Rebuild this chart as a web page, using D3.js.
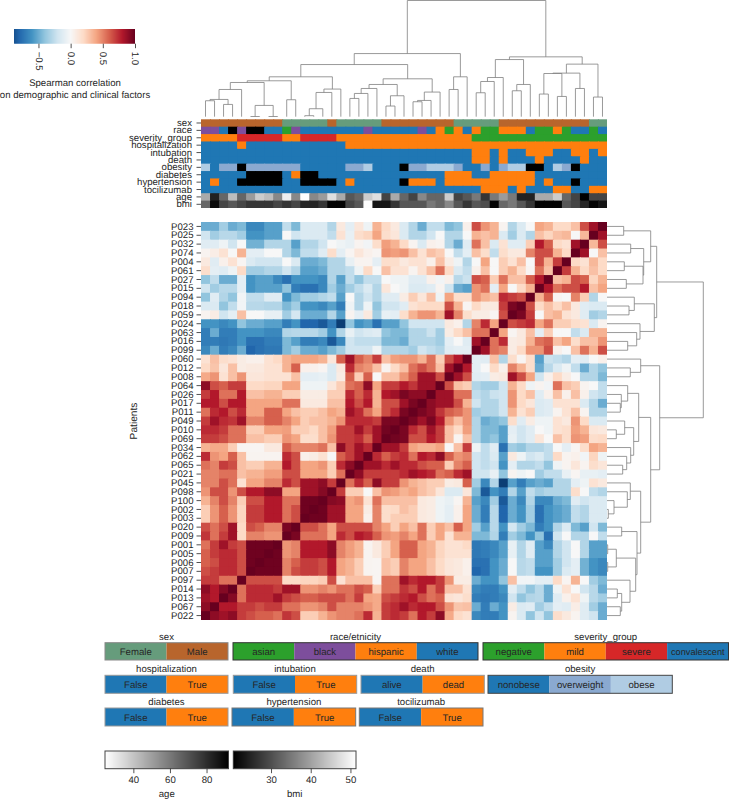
<!DOCTYPE html>
<html>
<head>
<meta charset="utf-8">
<script src="https://cdn.jsdelivr.net/npm/d3@7"></script>
<style>
  body { margin: 0; background: #fff; }
  text { font-family: "Liberation Sans", Arial, sans-serif; fill: #262626; text-rendering: geometricPrecision; }
</style>
</head>
<body>
<div id="my_dataviz"></div>
<script>
// Patients, top to bottom. Columns run the other way round (first column is the last patient)
var patients = ["P023","P025","P032","P074","P004","P061","P027","P015","P094","P018","P059","P024","P063","P016","P099",
  "P060","P012","P008","P064","P026","P017","P011","P049","P010","P069","P034","P062","P065","P021","P045","P098",
  "P100","P002","P003","P020","P009","P001","P005","P006","P007","P097","P014","P013","P067","P022"];

// Correlations. Matrix is symmetric so only the part left of the diagonal is kept
var corr = [
[-.5,-.5,-.35,-.5,-.45,-.65,-.65,-.55,-.55,-.25,-.45,-.15,-.15,-.15,-.3,.1,-.1,.12,-.05,.35,.2,.1,-.15,-.3,-.5,-.25,-.25,-.45,-.4,.05,.65,.45,.35,.03,-.3,-.15,0,.4,.35,.2,.2,.3,.65,.85],
[-.2,-.35,-.28,-.28,-.35,-.6,-.6,-.55,-.55,0,-.2,-.15,-.15,-.15,-.25,.15,-.08,.18,.22,.4,.18,.12,-.15,-.3,-.3,-.2,0,-.3,-.3,0,.35,.3,.35,-.15,-.35,-.15,-.3,.3,.22,.3,.33,0,.33],
[-.12,-.12,-.05,-.2,0,-.48,-.48,-.3,-.3,-.3,-.55,-.3,-.3,-.2,0,-.05,-.08,.03,-.03,.18,.42,.35,.2,.03,-.15,.05,.03,-.3,-.5,-.12,.55,.3,-.15,.15,-.12,-.12,.25,.8,.6,.2,.15,.85],
[.03,.07,.15,0,.35,-.1,-.1,0,0,-.3,-.45,-.25,-.25,-.12,.18,-.1,.02,.12,.05,.02,.45,.42,.45,.3,.15,.3,.25,0,-.25,-.1,.3,.18,-.25,.18,.1,.1,.5,.65,.65,.35,.2],
[.1,-.12,.05,.15,.02,-.15,-.2,-.2,-.2,0,-.15,-.5,-.5,-.45,-.3,-.3,-.08,.03,.03,-.1,.18,.18,.1,.15,.15,.05,.3,.08,-.05,-.3,0,.4,0,.25,.15,.3,0,.65,.35,.7],
[.18,-.1,-.12,-.05,.2,-.35,-.35,-.3,-.3,-.2,-.3,-.55,-.55,-.5,-.3,-.3,-.25,-.05,.2,0,.3,.15,.15,.03,.15,.3,.55,.2,-.15,-.25,.05,.3,0,.25,.35,.2,.02,.55,.3],
[-.4,-.25,-.5,-.5,-.1,-.6,-.55,-.55,-.65,-.75,-.6,-.6,-.6,-.65,-.3,-.55,-.25,-.4,-.25,-.25,0,-.05,-.05,-.12,-.12,.05,-.03,.05,-.28,-.22,.65,.6,.25,.55,.3,.3,.6,.8],
[-.2,-.35,-.28,-.28,-.1,-.6,-.55,-.55,-.55,-.4,-.7,-.75,-.75,-.65,-.35,-.5,-.35,-.25,-.15,-.3,.12,0,-.05,-.15,-.15,-.12,.03,-.2,-.5,-.55,.45,.55,-.1,.4,0,.2,.35],
[-.4,-.12,-.3,-.4,-.03,-.25,-.25,-.12,-.12,-.6,-.45,-.35,-.35,-.3,-.25,-.55,0,-.3,-.2,-.3,-.12,-.12,.08,.25,.12,.3,-.05,.4,.18,.18,.45,.35,.3,.75,.7,.65],
[-.15,-.15,-.4,-.25,-.03,-.28,-.28,-.3,-.3,-.45,-.35,-.6,-.6,-.65,-.55,-.7,-.05,-.3,-.05,-.4,-.2,-.2,-.12,.15,.2,.2,.2,.65,.35,.02,.2,.1,.1,.7,.95],
[.03,.08,-.2,-.1,.3,0,0,-.08,-.08,-.35,-.18,-.5,-.5,-.5,-.3,-.55,.03,-.1,.1,-.35,-.08,-.1,.18,.35,.45,.45,.35,.85,.5,.18,.08,.08,.02,.65],
[-.6,-.6,-.65,-.6,-.4,-.5,-.5,-.55,-.55,-.7,-.6,-.8,-.8,-.85,-.7,-.95,-.4,-.6,-.55,-.75,-.55,-.55,-.4,-.2,-.2,-.2,-.2,.1,.05,-.3,.5,.75,.4],
[-.7,-.5,-.7,-.7,-.6,-.6,-.6,-.65,-.65,-.3,-.28,-.28,-.28,-.35,-.6,-.3,-.08,-.2,-.15,-.12,-.4,-.45,-.45,-.3,-.3,-.22,-.35,.08,.2,.3,.55,.55],
[-.7,-.7,-.72,-.7,-.6,-.75,-.75,-.7,-.7,-.45,-.55,-.7,-.7,-.65,-.85,-.65,-.2,-.25,-.25,-.25,-.45,-.45,-.5,-.3,-.3,-.3,-.35,-.1,0,-.12,.85],
[-.65,-.5,-.7,-.65,-.5,-.8,-.75,-.72,-.72,-.45,-.35,-.5,-.5,-.55,-.45,-.35,-.2,-.2,-.2,-.05,-.3,-.3,-.3,-.35,-.2,-.25,-.3,-.12,-.1,-.1],
[.15,.3,.18,.15,.08,.05,.05,.15,.2,.35,.4,.4,.4,.35,.12,.6,.85,.6,.5,.7,.3,.42,.45,.45,.35,.55,.25,.65,.8],
[.2,.28,.12,.3,.08,.1,.1,.15,.15,.35,.6,.05,.05,.02,-.15,.1,.75,.5,.45,.3,.03,.2,.3,.55,.65,.55,.3,.85],
[.38,.45,.15,.3,.45,.12,.12,.15,.15,.15,.3,-.1,-.1,-.08,-.15,.08,.6,.25,.6,0,.3,.3,.45,.6,.85,.85,.65],
[.9,.65,.6,.7,.7,.2,.2,.22,.22,.4,.4,-.05,-.05,-.05,.12,.25,.55,.6,.9,.4,.7,.7,.8,.72,.85,.85],
[.7,.8,.55,.55,.8,.3,.3,.35,.35,.25,.25,.08,.08,.08,.25,.25,.75,.6,.75,.35,.8,.85,.95,.9,.9],
[.8,.8,.65,.8,.8,.4,.4,.4,.4,.55,.55,.1,.1,.1,.3,.3,.8,.65,.8,.35,.65,.65,.85,.95],
[.55,.75,.8,.65,.75,.4,.4,.6,.6,.4,.3,.25,.25,.3,.4,.35,.85,.75,.55,.4,.65,.75,.95],
[.7,.85,.75,.72,.85,.5,.5,.6,.6,.5,.4,.25,.3,.3,.35,.45,.75,.75,.75,.7,.95,.95],
[.75,.75,.7,.55,.55,.25,.25,.4,.4,.42,.25,.25,.2,.3,.42,.7,.7,.85,.7,.85,.97],
[.7,.7,.65,.55,.55,.3,.3,.25,.25,.45,.4,.18,.18,.3,.45,.7,.7,.75,.6,.85],
[.35,.38,.38,.25,.02,.02,.02,.1,.1,.6,.5,.5,.5,.55,.3,.9,.7,.85,.75],
[.75,.45,.4,.6,.3,.03,.03,.03,.03,.75,.65,.05,.08,.15,0,.6,.7,.85],
[.55,.5,.7,.65,.3,.25,.25,.35,.35,.8,.65,.4,.4,.45,.25,.75,.9],
[.5,.5,.55,.55,.3,.35,.35,.42,.42,.65,.65,.4,.4,.4,.25,.55],
[.5,.5,.65,.55,.15,.4,.4,.5,.5,.75,.65,.85,.85,.9,.7],
[.45,.65,.65,.45,.65,.8,.8,.9,.9,.4,.4,.85,.85,.92],
[.35,.5,.65,.5,.25,.65,.65,.8,.8,.55,.55,.98,.98],
[.25,.45,.6,.45,.22,.7,.7,.8,.8,.55,.65,.98],
[.25,.45,.6,.45,.22,.7,.7,.8,.8,.55,.65],
[.65,.55,.65,.85,.2,.65,.6,.5,.5,.95],
[.72,.55,.7,.85,.2,.5,.5,.45,.45],
[.55,.7,.85,.7,.65,.98,.98,.98],
[.6,.7,.75,.75,.65,.98,.98],
[.6,.65,.75,.75,.65,.98],
[.65,.7,.75,.75,.65],
[.7,.7,.55,.55],
[.9,.8,.92],
[.85,.8],
[.9],
[]
];

// Clinical factors per column, left to right. null means missing and is drawn black
var sexCats = ["Female","Male"];
var raceCats = ["asian","black","hispanic","white"];
var severityCats = ["negative","mild","severe","convalescent"];
var obesityCats = ["nonobese","overweight","obese"];
var boolCats = ["False","True"];
var deathCats = ["alive","dead"];

var sexValues = [1,1,1,1,1,1,1,1,1,0,0,0,0,0,1,0,0,0,0,0,1,1,1,1,1,1,1,1,0,0,0,0,0,1,1,1,1,1,1,1,1,1,1,0,0];
var raceValues = [1,1,3,null,1,null,null,3,3,0,1,3,3,3,3,3,3,3,1,3,3,3,3,3,1,3,2,0,2,3,2,0,0,2,2,2,3,0,0,2,0,3,3,0,3];
var severityValues = [1,1,1,1,2,2,2,2,2,1,1,2,2,2,2,1,1,1,1,1,1,1,1,1,1,1,1,1,1,1,0,0,0,0,0,0,0,0,0,0,0,0,0,0,0];
var hospitalValues = [0,0,0,0,1,0,0,0,0,0,0,0,0,0,0,0,1,1,1,1,1,1,1,1,1,1,1,1,1,1,1,1,1,1,1,1,1,1,1,1,1,1,1,1,1];
var intubationValues = [0,0,0,0,0,0,0,0,0,0,0,0,0,0,0,0,0,0,0,0,0,0,0,0,0,0,0,0,0,0,1,1,0,1,0,0,1,1,1,0,0,1,1,0,1];
var deathValues = [0,0,0,0,0,0,0,0,0,0,0,0,0,0,0,0,0,0,0,0,0,0,0,0,0,0,0,0,0,0,1,1,0,1,0,0,0,1,0,0,0,0,1,0,0];
var obesityValues = [2,0,1,1,null,1,1,1,1,1,1,0,0,0,0,0,1,1,2,0,0,0,null,1,1,2,2,2,1,0,0,1,0,1,2,2,null,null,0,2,1,null,0,0,0];
var diabetesValues = [0,0,0,0,0,null,null,null,null,0,1,null,null,0,0,0,0,0,0,0,0,0,0,0,0,0,0,1,1,1,0,0,1,1,1,1,1,0,0,0,0,0,0,0,0];
var hypertensionValues = [0,1,0,0,null,null,null,null,null,0,0,null,null,null,null,0,1,0,0,0,0,0,null,1,1,1,0,1,1,1,1,1,1,1,1,1,1,0,1,0,0,null,0,0,0];
var tocilizumabValues = [0,0,0,0,0,0,0,0,0,0,0,0,0,0,0,0,0,0,0,0,0,0,0,0,0,0,0,0,0,0,0,1,1,1,0,1,0,0,0,1,1,0,0,1,1];
var ageValues = [47,83,65,42,65,51,38,42,56,29,56,25,56,51,33,47,69,65,38,33,74,47,65,74,56,65,65,38,74,69,60,78,60,51,60,83,83,47,47,38,65,74,92,74,74];
var bmiValues = [33,22,29,31,29,27,27,27,29,27,29,25,25,27,21,21,29,31,51,23,23,27,31,31,31,35,33,37,31,27,31,30,21,33,35,31,27,21,21,21,31,29,25,21,23];

var blue = "#1f77b4", orange = "#ff7f0e", green = "#2ca02c", purple = "#7d4e9c", red = "#d62728";
var sexColors = ["#669c7c","#b8652c"];
var raceColors = [green, purple, orange, blue];
var severityColors = [green, orange, red, blue];
var obesityColors = [blue, "#8aa9d0", "#b0cce3"];
var boolColors = [blue, orange];

// Dendrograms as nested merges: [left, right, distance], numbers are leaves
var colA = [[[[0,1,16],[2,3,12.3],17.3],4,27.3],[[5,6,.2],[7,8,.2],11.3],34.3];
var colB = [[colA,[9,10,17],36],[[[[11,12,1],13,8],14,24.3],15,27.7],40];
var colC = [[[[[16,17,18.3],18,23.3],19,28.3],[[20,21,10.7],22,21],32.3],[[[23,24,15],25,16.3],26,24.7],38];
var colD = [[colB,colC,52.3],[[27,28,27.3],29,40],63.3];
var colE = [[[[30,31,24],32,35.3],33,39.3],[[34,35,26],36,32.3],57.3];
var colF = [[[[37,38,22.7],[39,40,20.3],43.3],[41,42,28.3],43.7],[43,44,19.7],52.7];
var colTree = [colD,[colE,colF,60],116.5];

var rowA = [[0,1,16.7],[[2,3,23.7],[[4,5,17.3],[6,7,19.3],36],36.7],43.7];
var rowB = [[8,[9,10,22],27.3],[11,[12,[13,14,20.7],29.7],33],47.3];
var rowC = [18,[19,[20,21,13.3],14.3],20.7];
var rowD = [[22,[23,24,9.3],17.7],[25,[26,[27,28,15.7],19.7],23.7],26.7];
var rowE = [29,[30,[31,[32,33,1.3],7],20.3],23.3];
var rowF = [[[36,37,.7],[38,39,.7],9.3],[40,[[41,42,10.3],[43,44,13.3],14.7],23],28.7];
var rowG = [[rowC,rowD,31.7],[rowE,[[34,35,14.7],rowF,30],33.7],43.7];
var rowTree = [[rowA,rowB,49.7],[[15,[16,17,23.3],33.7],rowG,52.7],96.3];

var width = 729, height = 799;
var heat = {left: 201, right: 607, top: 222, bottom: 620};
var strip = {top: 119.3, bottom: 208};
var fontSize = 9.6;

// append the svg object to the body of the page
var svg = d3.select("#my_dataviz")
  .append("svg")
    .attr("width", width)
    .attr("height", height)
    .style("display", "block");

var n = patients.length;

// RdBu_r stops, centred on zero
var rdbu = d3.scaleLinear()
    .domain([-1,-.8,-.6,-.4,-.2,0,.2,.4,.6,.8,1])
    .range(["#053061","#2166ac","#4393c3","#92c5de","#d1e5f0","#f7f7f7","#fddbc7","#f4a582","#d6604d","#b2182b","#67001f"]);

function corrValue(r, k) {
  if (r + k === n - 1) return 1;
  if (r + k < n - 1) return corr[r][k];
  return corr[n - 1 - k][n - 1 - r];
}

var xBand = d3.scaleBand().domain(d3.range(n)).range([heat.left, heat.right]);
var yBand = d3.scaleBand().domain(d3.range(n)).range([heat.top, heat.bottom]);

// cells overlap the next one by a pixel so no seams show between them
function cellWidth(k) { return xBand.bandwidth() + (k < n - 1 ? 1 : 0); }

// #########################################################
// HEATMAP
// #########################################################
var cells = [];
d3.range(n).forEach(function(r) {
  d3.range(n).forEach(function(k) { cells.push({r: r, k: k, v: corrValue(r, k)}); });
});

svg.append("g").selectAll("rect")
    .data(cells)
    .enter()
    .append("rect")
    .attr("x", d => xBand(d.k))
    .attr("y", d => yBand(d.r))
    .attr("width", d => cellWidth(d.k))
    .attr("height", d => yBand.bandwidth() + (d.r < n - 1 ? 1 : 0))
    .attr("fill", d => rdbu(d.v));

var rowAxis = d3.axisLeft(yBand).tickSize(4.5).tickFormat(i => patients[i]);
var rowG2 = svg.append("g")
    .attr("transform", "translate(" + heat.left + ",0)")
    .call(rowAxis);
rowG2.select(".domain").remove();
rowG2.selectAll("line").attr("stroke", "#262626").attr("stroke-width", .8);
rowG2.selectAll("text").attr("font-size", fontSize).attr("font-family", null).attr("x", -7.5);

svg.append("text")
    .attr("transform", "translate(137,421) rotate(-90)")
    .attr("text-anchor", "middle")
    .attr("font-size", 10.2)
    .text("Patients");

// #########################################################
// ANNOTATION STRIPS
// #########################################################
var greyAge = d3.scaleLinear().domain([24.5, 92]).range(["#ffffff", "#000000"]);
var greyBmi = d3.scaleLinear().domain([20.5, 51.4]).range(["#000000", "#ffffff"]);

function catColor(colors) {
  return v => v === null ? "#000000" : colors[v];
}

var stripRows = [
  {name: "sex", values: sexValues, color: catColor(sexColors)},
  {name: "race", values: raceValues, color: catColor(raceColors)},
  {name: "severity_group", values: severityValues, color: catColor(severityColors)},
  {name: "hospitalization", values: hospitalValues, color: catColor(boolColors)},
  {name: "intubation", values: intubationValues, color: catColor(boolColors)},
  {name: "death", values: deathValues, color: catColor(boolColors)},
  {name: "obesity", values: obesityValues, color: catColor(obesityColors)},
  {name: "diabetes", values: diabetesValues, color: catColor(boolColors)},
  {name: "hypertension", values: hypertensionValues, color: catColor(boolColors)},
  {name: "tocilizumab", values: tocilizumabValues, color: catColor(boolColors)},
  {name: "age", values: ageValues, color: greyAge},
  {name: "bmi", values: bmiValues, color: greyBmi}
];

var stripY = d3.scaleBand().domain(stripRows.map(d => d.name)).range([strip.top, strip.bottom]);

stripRows.forEach(function(row, rowIndex) {
  svg.append("g").selectAll("rect")
      .data(row.values)
      .enter()
      .append("rect")
      .attr("x", (d, i) => xBand(i))
      .attr("y", stripY(row.name))
      .attr("width", (d, i) => cellWidth(i))
      .attr("height", stripY.bandwidth() + (rowIndex < stripRows.length - 1 ? 1 : 0))
      .attr("fill", d => row.color(d));
});

var stripG = svg.append("g")
    .attr("transform", "translate(" + heat.left + ",0)")
    .call(d3.axisLeft(stripY).tickSize(4.5));
stripG.select(".domain").remove();
stripG.selectAll("line").attr("stroke", "#262626").attr("stroke-width", .8);
stripG.selectAll("text").attr("font-size", fontSize).attr("font-family", null).attr("x", -9);

// #########################################################
// DENDROGRAMS
// #########################################################
var lineColor = "#808080";

function drawTree(tree, place) {
  var g = svg.append("g").attr("fill", "none").attr("stroke", lineColor).attr("stroke-width", .8);
  function walk(node) {
    if (typeof node === "number") return {pos: node, dist: 0};
    var a = walk(node[0]), b = walk(node[1]), d = node[2];
    var pts = [place(a.pos, a.dist), place(a.pos, d), place(b.pos, d), place(b.pos, b.dist)];
    g.append("path").attr("d", d3.line()(pts));
    return {pos: (a.pos + b.pos) / 2, dist: d};
  }
  walk(tree);
}

var colPos = d3.scaleLinear().domain([0, n - 1]).range([xBand(0) + xBand.bandwidth() / 2, xBand(n - 1) + xBand.bandwidth() / 2]);
var colDist = d3.scaleLinear().domain([0, 116.5]).range([116.7, .5]);
drawTree(colTree, (p, d) => [colPos(p), colDist(d)]);

var rowPos = d3.scaleLinear().domain([0, n - 1]).range([yBand(0) + yBand.bandwidth() / 2, yBand(n - 1) + yBand.bandwidth() / 2]);
var rowDist = d3.scaleLinear().domain([0, 96.3]).range([607, 703.3]);
drawTree(rowTree, (p, d) => [rowDist(d), rowPos(p)]);

// #########################################################
// MAIN COLOURBAR
// #########################################################
var cbX = d3.scaleLinear().domain([-.88, 1]).range([14, 135]);

function gradientBar(scale, colorFn, y0, y1) {
  var x0 = scale.range()[0], x1 = scale.range()[1];
  svg.append("g").selectAll("rect")
      .data(d3.range(Math.floor(x0), Math.ceil(x1)))
      .enter()
      .append("rect")
      .attr("x", d => d)
      .attr("y", y0)
      .attr("width", d => Math.min(1.3, x1 - d))
      .attr("height", y1 - y0)
      .attr("fill", d => colorFn(scale.invert(Math.min(d + .5, x1))));
}

gradientBar(cbX, rdbu, 29, 43.7);

var cbAxis = svg.append("g")
    .attr("transform", "translate(0,43.7)")
    .call(d3.axisBottom(cbX).tickValues([-.5, 0, .5, 1]).tickSize(4.5).tickFormat(d3.format(".1f")));
cbAxis.select(".domain").remove();
cbAxis.selectAll("line").attr("stroke", "#262626").attr("stroke-width", .8);
cbAxis.selectAll("text")
    .attr("font-size", fontSize)
    .attr("font-family", null)
    .attr("transform", "rotate(90)")
    .attr("text-anchor", "start")
    .attr("x", 8)
    .attr("y", 0)
    .attr("dy", ".32em");

svg.append("text").attr("x", 75).attr("y", 85.5).attr("text-anchor", "middle").attr("font-size", fontSize).text("Spearman correlation");
svg.append("text").attr("x", 75).attr("y", 97.5).attr("text-anchor", "middle").attr("font-size", fontSize).text("on demographic and clinical factors");

// #########################################################
// LEGENDS
// #########################################################
var legends = [
  {title: "sex", cats: sexCats, colors: sexColors, x0: 105, x1: 228, y0: 642.7, y1: 660, edge: "#888"},
  {title: "race/etnicity", cats: raceCats, colors: raceColors, x0: 233, x1: 478, y0: 642.7, y1: 660, edge: "#333"},
  {title: "severity_group", cats: severityCats, colors: severityColors, x0: 483, x1: 728.5, y0: 642.7, y1: 660, edge: "#333"},
  {title: "hospitalization", cats: boolCats, colors: boolColors, x0: 105, x1: 228, y0: 675.3, y1: 693.3, edge: "#999"},
  {title: "intubation", cats: boolCats, colors: boolColors, x0: 233.3, x1: 356.7, y0: 675.3, y1: 693.3, edge: "#999"},
  {title: "death", cats: deathCats, colors: boolColors, x0: 361, x1: 484.3, y0: 675.3, y1: 693.3, edge: "#999"},
  {title: "obesity", cats: obesityCats, colors: obesityColors, x0: 488, x1: 672.3, y0: 675.3, y1: 693.3, edge: "#444"},
  {title: "diabetes", cats: boolCats, colors: boolColors, x0: 105, x1: 228, y0: 708, y1: 726, edge: "#999"},
  {title: "hypertension", cats: boolCats, colors: boolColors, x0: 232, x1: 355.7, y0: 708, y1: 726, edge: "#777"},
  {title: "tocilizumab", cats: boolCats, colors: boolColors, x0: 359.3, x1: 483, y0: 708, y1: 726, edge: "#777"}
];

legends.forEach(function(leg) {
  var band = d3.scaleBand().domain(leg.cats).range([leg.x0, leg.x1]);
  var g = svg.append("g");
  g.selectAll("rect")
      .data(leg.cats)
      .enter()
      .append("rect")
      .attr("x", d => band(d))
      .attr("y", leg.y0)
      .attr("width", band.bandwidth())
      .attr("height", leg.y1 - leg.y0)
      .attr("fill", (d, i) => leg.colors[i]);
  g.selectAll("text.cat")
      .data(leg.cats)
      .enter()
      .append("text")
      .attr("class", "cat")
      .attr("x", d => band(d) + band.bandwidth() / 2)
      .attr("y", (leg.y0 + leg.y1) / 2 + 3.5)
      .attr("text-anchor", "middle")
      .attr("font-size", d => d === "convalescent" ? 9.2 : fontSize)
      .text(d => d);
  g.append("rect")
      .attr("x", leg.x0)
      .attr("y", leg.y0)
      .attr("width", leg.x1 - leg.x0)
      .attr("height", leg.y1 - leg.y0)
      .attr("fill", "none")
      .attr("stroke", leg.edge)
      .attr("stroke-width", 1);
  g.append("text")
      .attr("x", (leg.x0 + leg.x1) / 2)
      .attr("y", leg.y0 - 3)
      .attr("text-anchor", "middle")
      .attr("font-size", fontSize)
      .text(leg.title);
});

function greyLegend(title, domain, range, colorFn, ticks) {
  var scale = d3.scaleLinear().domain(domain).range(range);
  gradientBar(scale, colorFn, 751, 768.7);
  svg.append("rect")
      .attr("x", range[0])
      .attr("y", 751)
      .attr("width", range[1] - range[0])
      .attr("height", 17.7)
      .attr("fill", "none")
      .attr("stroke", "#444")
      .attr("stroke-width", 1);
  var ax = svg.append("g")
      .attr("transform", "translate(0,768.7)")
      .call(d3.axisBottom(scale).tickValues(ticks).tickSize(4.5));
  ax.select(".domain").remove();
  ax.selectAll("line").attr("stroke", "#262626").attr("stroke-width", .8);
  ax.selectAll("text").attr("font-size", fontSize).attr("font-family", null).attr("y", 7);
  svg.append("text")
      .attr("x", (range[0] + range[1]) / 2)
      .attr("y", 797)
      .attr("text-anchor", "middle")
      .attr("font-size", fontSize)
      .text(title);
}

greyLegend("age", [24.5, 92], [105, 228.5], greyAge, [40, 60, 80]);
greyLegend("bmi", [20.5, 51.4], [233.3, 356], greyBmi, [30, 40, 50]);
</script>
</body>
</html>
